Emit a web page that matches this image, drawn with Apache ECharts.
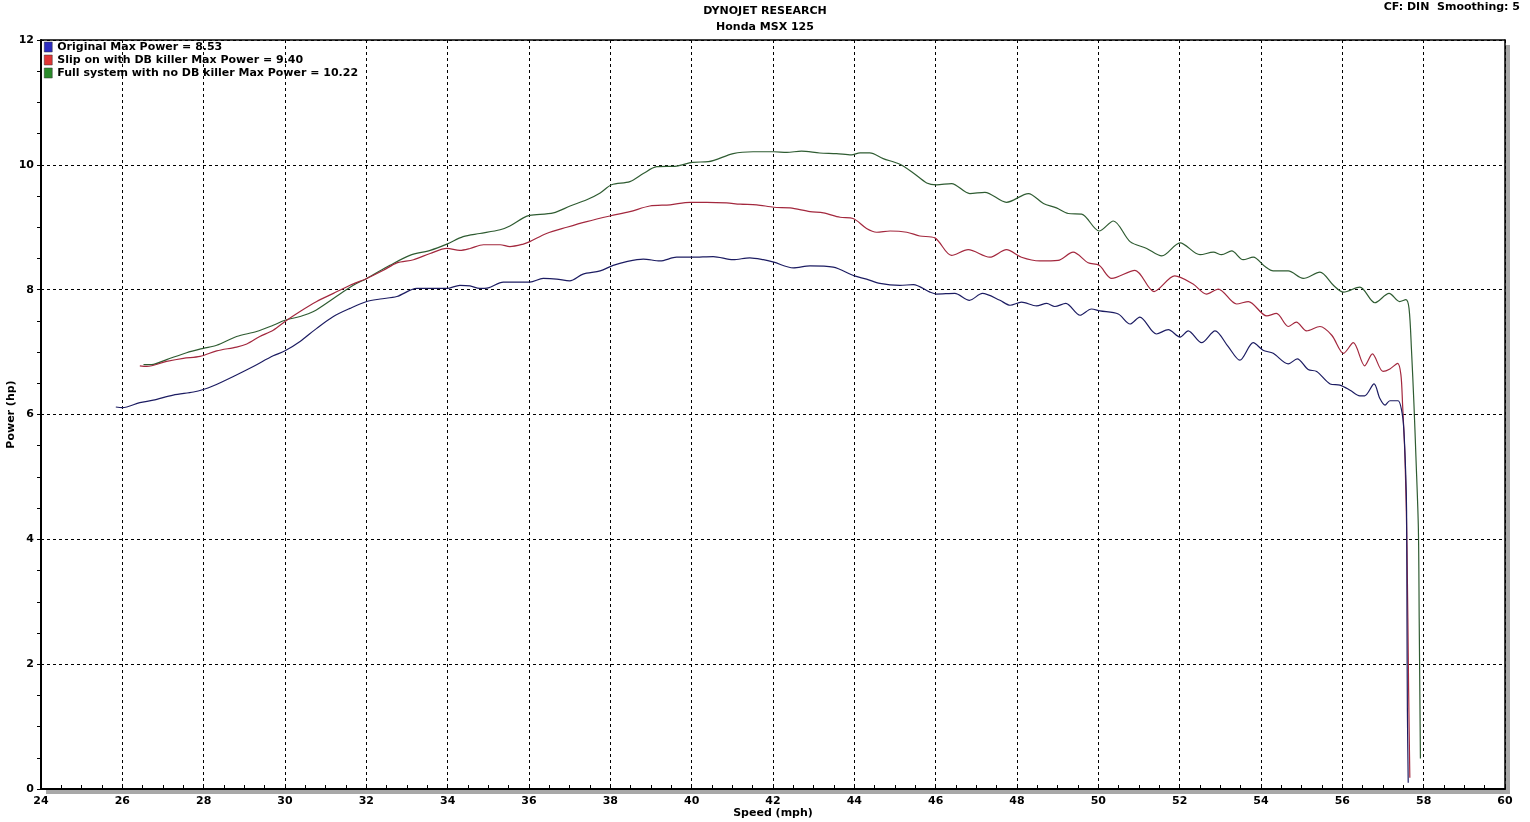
<!DOCTYPE html>
<html>
<head>
<meta charset="utf-8">
<script src="https://cdn.jsdelivr.net/npm/echarts@6/dist/echarts.min.js"></script>
<style>
html,body{margin:0;padding:0;background:#fff;}
#chart{width:1530px;height:822px;}
</style>
</head>
<body>
<div id="chart"></div>
<script>
// ---- data (speed mph, power hp) ----
const seriesNames = [
  'Original Max Power = 8.53',
  'Slip on with DB killer Max Power = 9.40',
  'Full system with no DB killer Max Power = 10.22'
];
const originalPts = [
  [25.84,6.12],[26.0,6.11],[26.43,6.19],[26.76,6.23],[27.25,6.31],[27.75,6.36],[27.99,6.40],[28.24,6.46],
  [28.73,6.61],[29.22,6.77],[29.71,6.94],[30.0,7.02],[30.37,7.17],[30.78,7.38],[31.19,7.57],[31.6,7.70],
  [32.01,7.81],[32.34,7.85],[32.75,7.89],[33.24,8.02],[33.65,8.02],[33.98,8.02],[34.30,8.07],[34.55,8.06],
  [34.79,8.02],[35.0,8.03],[35.37,8.12],[35.78,8.12],[36.02,8.12],[36.35,8.18],[36.68,8.17],[37.0,8.14],
  [37.33,8.25],[37.75,8.30],[38.07,8.39],[38.40,8.45],[38.81,8.49],[39.22,8.46],[39.63,8.52],[40.02,8.52],
  [40.53,8.53],[41.02,8.48],[41.43,8.51],[41.76,8.48],[42.02,8.44],[42.50,8.35],[42.91,8.38],[43.48,8.36],
  [44.0,8.22],[44.30,8.17],[44.63,8.10],[45.12,8.07],[45.45,8.08],[45.86,7.96],[46.02,7.93],[46.47,7.94],
  [46.83,7.83],[47.15,7.94],[47.58,7.83],[47.83,7.75],[48.11,7.80],[48.48,7.74],[48.73,7.78],[48.93,7.73],
  [49.20,7.78],[49.55,7.59],[49.83,7.69],[50.04,7.66],[50.49,7.61],[50.78,7.45],[51.02,7.56],[51.43,7.29],
  [51.72,7.36],[52.01,7.24],[52.21,7.34],[52.54,7.15],[52.87,7.34],[53.19,7.09],[53.48,6.87],[53.81,7.15],
  [54.05,7.03],[54.30,6.98],[54.67,6.81],[54.89,6.89],[55.16,6.72],[55.37,6.69],[55.70,6.49],[55.94,6.47],
  [56.19,6.39],[56.43,6.30],[56.55,6.30],[56.78,6.49],[56.92,6.26],[57.05,6.15],[57.17,6.22],[57.37,6.22],
  [57.46,6.06],[57.51,5.78],[57.56,5.03],[57.58,4.45],[57.59,2.73],[57.60,1.24],[57.62,0.10]
];
const slipOnPts = [
  [26.43,6.78],[26.60,6.77],[27.09,6.85],[27.50,6.90],[27.91,6.93],[28.32,7.02],[28.81,7.08],[29.06,7.13],
  [29.38,7.25],[29.71,7.35],[30.0,7.49],[30.37,7.65],[30.78,7.81],[31.19,7.94],[31.60,8.07],[32.01,8.18],
  [32.42,8.31],[32.75,8.43],[33.16,8.48],[33.57,8.58],[33.98,8.66],[34.30,8.63],[34.55,8.66],[34.88,8.72],
  [35.29,8.72],[35.53,8.69],[35.86,8.73],[36.02,8.77],[36.43,8.90],[36.93,9.00],[37.42,9.09],[37.99,9.18],
  [38.48,9.25],[38.97,9.34],[39.47,9.36],[39.96,9.40],[40.37,9.40],[40.86,9.39],[41.19,9.37],[41.60,9.36],
  [42.02,9.32],[42.42,9.31],[42.91,9.25],[43.24,9.23],[43.65,9.16],[43.97,9.14],[44.30,8.98],[44.55,8.92],
  [44.88,8.94],[45.29,8.92],[45.61,8.86],[45.98,8.83],[46.39,8.55],[46.80,8.64],[47.33,8.52],[47.74,8.64],
  [48.11,8.52],[48.56,8.46],[49.01,8.47],[49.38,8.60],[49.75,8.43],[50.02,8.39],[50.33,8.18],[50.90,8.31],
  [51.37,7.97],[51.88,8.22],[52.33,8.09],[52.66,7.93],[52.95,8.01],[53.40,7.77],[53.69,7.81],[54.14,7.58],
  [54.38,7.62],[54.67,7.41],[54.87,7.48],[55.12,7.34],[55.45,7.41],[55.74,7.27],[56.03,6.98],[56.27,7.15],
  [56.55,6.78],[56.74,6.97],[57.0,6.69],[57.17,6.73],[57.36,6.82],[57.44,6.64],[57.48,6.18],[57.54,5.32],
  [57.59,3.88],[57.63,1.59],[57.66,0.18]
];
const fullSystemPts = [
  [26.52,6.80],[26.72,6.80],[27.09,6.88],[27.58,6.99],[27.99,7.06],[28.32,7.11],[28.81,7.25],[29.30,7.33],
  [29.71,7.43],[30.0,7.51],[30.37,7.57],[30.70,7.65],[31.19,7.86],[31.68,8.07],[32.01,8.18],[32.58,8.39],
  [33.07,8.55],[33.57,8.63],[33.98,8.73],[34.38,8.85],[34.79,8.90],[35.29,8.96],[35.53,9.02],[35.86,9.15],
  [36.02,9.19],[36.60,9.23],[37.01,9.34],[37.42,9.44],[37.75,9.55],[38.03,9.68],[38.48,9.73],[38.81,9.86],
  [39.14,9.97],[39.63,9.98],[40.02,10.04],[40.41,10.05],[41.02,10.18],[41.51,10.21],[42.02,10.21],[42.34,10.20],
  [42.70,10.22],[43.15,10.19],[43.56,10.18],[43.93,10.16],[44.14,10.19],[44.38,10.19],[44.71,10.10],[45.12,10.01],
  [45.45,9.87],[45.78,9.71],[46.02,9.68],[46.39,9.70],[46.84,9.54],[47.21,9.56],[47.74,9.40],[48.28,9.54],
  [48.65,9.38],[48.97,9.31],[49.26,9.22],[49.59,9.21],[50.02,8.94],[50.37,9.10],[50.78,8.77],[51.19,8.66],
  [51.56,8.54],[52.01,8.75],[52.50,8.56],[52.83,8.60],[53.03,8.56],[53.28,8.62],[53.56,8.48],[53.81,8.52],
  [54.10,8.37],[54.30,8.30],[54.67,8.30],[55.04,8.18],[55.45,8.28],[55.78,8.07],[56.03,7.96],[56.43,8.04],
  [56.80,7.79],[57.15,7.94],[57.41,7.81],[57.56,7.84],[57.64,7.70],[57.70,7.04],[57.76,6.18],[57.81,5.32],
  [57.87,4.17],[57.89,2.73],[57.92,0.49]
];
const lineColors = ['#1c1c62', '#a3283e', '#2f5c32'];
const legendColors = ['#2b2bc0', '#e03535', '#2a8a2a'];
const titleLines = ['DYNOJET RESEARCH', 'Honda MSX 125'];
const cornerNote = 'CF: DIN  Smoothing: 5';
const xAxisName = 'Speed (mph)';
const yAxisName = 'Power (hp)';

const FONT = '"DejaVu Sans", Verdana, sans-serif';
const chart = echarts.init(document.getElementById('chart'), null, {renderer: 'canvas'});
const allPts = [originalPts, slipOnPts, fullSystemPts];

const boldText = {fontFamily: FONT, fontSize: 11, fontWeight: 'bold', color: '#000'};
const frameAxis = {
  show: true, min: 0, max: 1,
  axisLine: {show: true, onZero: false, lineStyle: {color: '#000', width: 1.5}},
  axisTick: {show: false}, axisLabel: {show: false}, splitLine: {show: false}
};

chart.setOption({
  animation: false,
  backgroundColor: '#fff',
  textStyle: {fontFamily: FONT},
  title: [
    {text: titleLines.join('\n'), left: 'center', top: 3, padding: 0,
     textStyle: Object.assign({lineHeight: 16}, boldText)},
    {text: cornerNote, right: 10, top: 2, padding: 0, textStyle: boldText}
  ],
  legend: {
    orient: 'vertical', left: 44, top: 41, itemGap: 1, padding: 0,
    itemWidth: 8, itemHeight: 10, icon: 'rect',
    textStyle: Object.assign({lineHeight: 12}, boldText),
    data: seriesNames.map((n, i) => ({name: n, itemStyle: {color: legendColors[i], borderColor: '#333', borderWidth: 0.5}}))
  },
  grid: {
    left: 41, right: 25, top: 40, bottom: 33,
    outerBoundsMode: 'none', containLabel: false,
    show: true, backgroundColor: '#fff', borderWidth: 0,
    shadowColor: '#a8a8a8', shadowOffsetX: 5, shadowOffsetY: 5, shadowBlur: 0
  },
  xAxis: [{
    type: 'value', min: 24, max: 60, interval: 2,
    name: xAxisName, nameLocation: 'middle', nameGap: 19, nameMoveOverlap: false,
    nameTextStyle: boldText,
    axisLine: {show: true, onZero: false, lineStyle: {color: '#000', width: 2}},
    axisTick: {show: true, inside: true, length: 4, lineStyle: {color: '#000'}},
    minorTick: {show: true, splitNumber: 4, length: 4, lineStyle: {color: '#000'}},
    axisLabel: Object.assign({margin: 7}, boldText),
    splitLine: {show: true, lineStyle: {color: '#000', width: 1, type: [3, 3]}}
  }, Object.assign({type: 'value', position: 'top'}, frameAxis)],
  yAxis: [{
    type: 'value', min: 0, max: 12, interval: 2,
    name: yAxisName, nameLocation: 'middle', nameGap: 24, nameRotate: 90, nameMoveOverlap: false,
    nameTextStyle: boldText,
    axisLine: {show: true, onZero: false, lineStyle: {color: '#000', width: 2}},
    axisTick: {show: true, inside: false, length: 4, lineStyle: {color: '#000'}},
    minorTick: {show: true, splitNumber: 4, length: 4, lineStyle: {color: '#000'}},
    axisLabel: Object.assign({margin: 7}, boldText),
    splitLine: {show: true, lineStyle: {color: '#000', width: 1, type: [3, 3]}}
  }, Object.assign({type: 'value', position: 'right'}, frameAxis)],
  series: seriesNames.map((n, i) => ({
    name: n, type: 'line', data: allPts[i], showSymbol: false, smooth: 0.3,
    xAxisIndex: 0, yAxisIndex: 0,
    lineStyle: {color: lineColors[i], width: 1.2}, itemStyle: {color: lineColors[i]},
    z: 3 - i
  }))
});
</script>
</body>
</html>
